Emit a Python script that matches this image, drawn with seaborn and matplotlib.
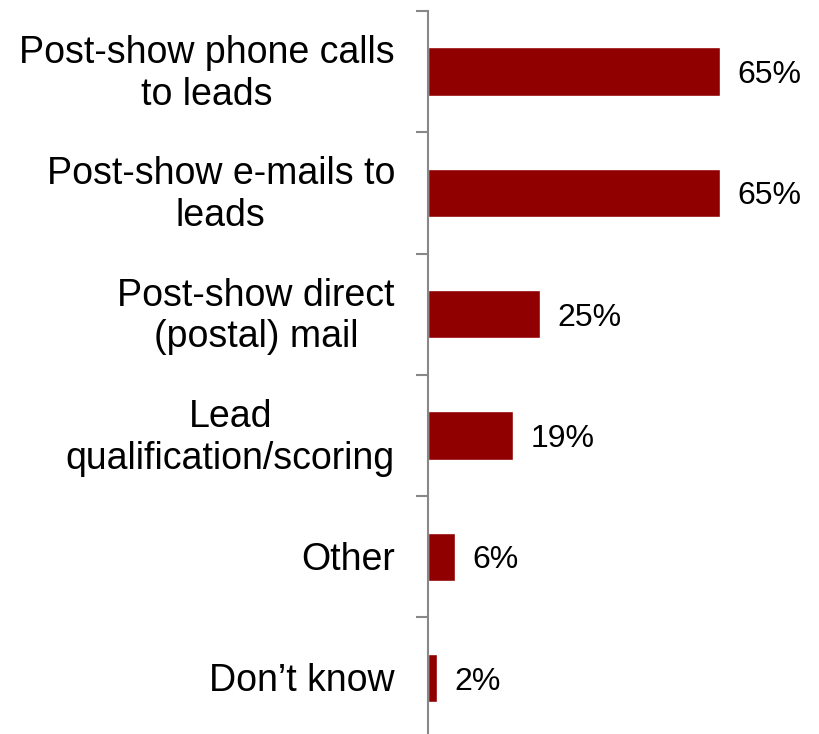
import matplotlib
matplotlib.use("Agg")
import matplotlib.pyplot as plt
import seaborn as sns
import pandas as pd

categories = [
    "Post-show phone calls\nto leads",
    "Post-show e-mails to\nleads",
    "Post-show direct\n(postal) mail",
    "Lead\nqualification/scoring",
    "Other",
    "Don\u2019t know",
]
values = [65, 65, 25, 19, 6, 2]

sns.set_theme(style="white")
plt.rcParams["font.family"] = ["Liberation Sans", "DejaVu Sans"]

df = pd.DataFrame({"category": categories, "value": values})

fig = plt.figure(figsize=(8.19, 7.34), dpi=100)
ax = fig.add_axes([428 / 819, -4.7 / 734, 1 - 428 / 819, (734 - 11 + 4.7) / 734])

bar_color = "#900000"
sns.barplot(data=df, x="value", y="category", orient="h", color=bar_color,
            width=0.4, saturation=1, ax=ax)

ax.set_xlim(0, 86.9)
ax.set_ylim(len(categories) - 0.5, -0.5)
ax.set_xlabel("")
ax.set_ylabel("")
ax.set_xticks([])

for s in ["top", "right", "bottom"]:
    ax.spines[s].set_visible(False)
ax.spines["left"].set_color("#888888")
ax.spines["left"].set_linewidth(1.5)

# tick marks at category boundaries only
ax.set_yticks(range(len(categories)))
ax.set_yticklabels([])
ax.tick_params(axis="y", which="major", length=0)
ax.set_yticks([i - 0.5 for i in range(len(categories) + 1)], minor=True)
ax.tick_params(axis="y", which="minor", length=8.6, width=1.5,
               color="#888888", left=True)

# category labels, centred lines, right-aligned left of the axis
for i, cat in enumerate(categories):
    dy = 3.2 if "\n" in cat else 0.5
    ax.annotate(cat, xy=(0, i), xycoords=("axes fraction", "data"),
                xytext=(-23.8, dy), textcoords="offset points",
                ha="right", va="center_baseline", multialignment="center",
                fontsize=27, color="black", annotation_clip=False)

for i, v in enumerate(values):
    ax.text(v + 3.8, i, f"{v}%", va="center_baseline", ha="left",
            fontsize=23, color="black")

fig.savefig("out.png", dpi=100)
